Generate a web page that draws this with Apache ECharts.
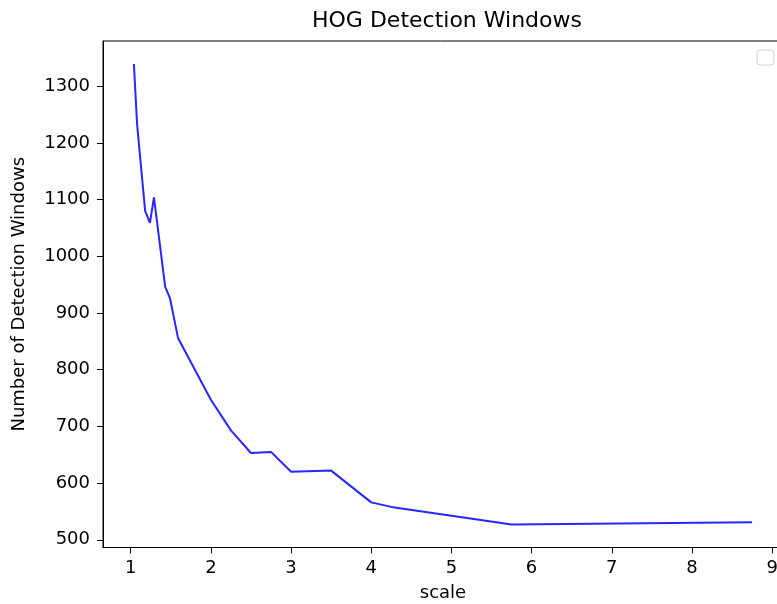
<!DOCTYPE html>
<html>
<head>
<meta charset="utf-8">
<script src="https://cdn.jsdelivr.net/npm/echarts@6/dist/echarts.min.js"></script>
<style>html,body{margin:0;padding:0;background:#fff}#c{width:777px;height:604px}</style>
</head>
<body>
<div id="c"></div>
<script>
const scales = [1.04, 1.08, 1.18, 1.24, 1.29, 1.43, 1.49, 1.59, 2.0, 2.25, 2.5, 2.75, 3.0, 3.5, 4.0, 4.25, 5.75, 8.75];
const windows = [1339, 1232, 1080, 1059, 1104, 946, 926, 856, 747, 693, 653, 655, 620, 622, 566, 558, 527, 531];
const xTicks = [1, 2, 3, 4, 5, 6, 7, 8, 9];
const yTicks = [500, 600, 700, 800, 900, 1000, 1100, 1200, 1300];

function pad(arr) {
  const lo = Math.min(...arr), hi = Math.max(...arr), r = hi - lo;
  return [lo - 0.05 * r, hi + 0.05 * r];
}
const xr = pad(scales), yr = pad(windows);
const FONT = 'DejaVu Sans';
const chart = echarts.init(document.getElementById('c'), null, {renderer: 'canvas'});
chart.setOption({
  animation: false,
  backgroundColor: '#fff',
  title: {
    text: 'HOG Detection Windows',
    left: 442, top: 5, textAlign: 'center',
    textStyle: {fontFamily: FONT, fontSize: 22, fontWeight: 'normal', color: '#000'}
  },
  grid: {left: 103, top: 41, width: 680, height: 506.5, show: true, borderColor: '#000', borderWidth: 1,
         containLabel: false, outerBoundsMode: 'none'},
  xAxis: {
    type: 'value', min: xr[0], max: xr[1],
    name: 'scale', nameLocation: 'middle', nameGap: 37,
    nameTextStyle: {fontFamily: FONT, fontSize: 18, color: '#000'},
    axisLine: {show: true, onZero: false, lineStyle: {color: '#000', width: 1}},
    axisTick: {show: true, inside: false, length: 6, customValues: xTicks, lineStyle: {color: '#000'}},
    axisLabel: {customValues: xTicks, margin: 12, fontFamily: FONT, fontSize: 18, color: '#000', formatter: v => String(v)},
    splitLine: {show: false}
  },
  yAxis: {
    type: 'value', min: yr[0], max: yr[1],
    name: 'Number of Detection Windows', nameLocation: 'middle', nameGap: 75,
    nameTextStyle: {fontFamily: FONT, fontSize: 18, color: '#000'},
    axisLine: {show: true, onZero: false, lineStyle: {color: '#000', width: 1}},
    axisTick: {show: true, inside: false, length: 6, customValues: yTicks, lineStyle: {color: '#000'}},
    axisLabel: {customValues: yTicks, margin: 13, fontFamily: FONT, fontSize: 18, color: '#000', formatter: v => String(v)},
    splitLine: {show: false}
  },
  series: [{
    type: 'line',
    data: scales.map((s, i) => [s, windows[i]]),
    showSymbol: false,
    lineStyle: {color: 'rgba(0,0,255,0.85)', width: 2},
    itemStyle: {color: 'rgba(0,0,255,0.85)'}
  }],
  graphic: [{
    type: 'rect',
    shape: {x: 757, y: 50, width: 17, height: 15, r: 3},
    style: {fill: '#fff', stroke: '#d0d0d0', lineWidth: 1}
  }]
});
</script>
</body>
</html>
